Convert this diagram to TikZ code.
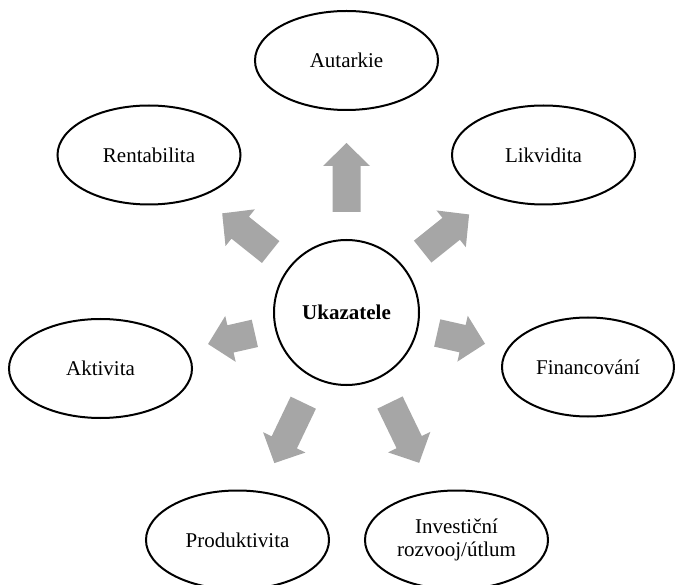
\documentclass[tikz,border=0pt]{standalone}
\usepackage{fontspec}
\setmainfont{Liberation Serif}
\usetikzlibrary{shapes.geometric,calc}
\definecolor{arrowgray}{HTML}{A6A6A6}

% Block arrow on the ray from the hub towards a topic node:
% #1 = target node, #2 = distance of the tail from the hub centre,
% #3 = distance of the tip from the hub centre.
\newcommand{\radarrow}[3]{%
  \path ($(hub.center)!#2!(#1.center)$) coordinate (rt)
        ($(hub.center)!#3!(#1.center)$) coordinate (rp);
  \path ($(rp)!23pt!(rt)$) coordinate (rh);
  \fill[arrowgray]
    ($(rt)!14pt!90:(rp)$) -- ($(rh)!14pt!90:(rp)$) -- ($(rh)!23.5pt!90:(rp)$)
    -- (rp)
    -- ($(rh)!23.5pt!-90:(rp)$) -- ($(rh)!14pt!-90:(rp)$) -- ($(rt)!14pt!-90:(rp)$)
    -- cycle;
}

\begin{document}
\begin{tikzpicture}[x=1pt,y=-1pt,
  topic/.style={ellipse, draw=black, line width=2pt, fill=white, inner sep=0pt,
    minimum width=183pt, minimum height=99pt, align=center,
    font=\fontsize{21}{22.5}\selectfont},
  hubnode/.style={circle, draw=black, line width=2pt, fill=white, inner sep=0pt,
    minimum size=145pt, font=\bfseries\fontsize{21}{23}\selectfont}]
\useasboundingbox (0,0) rectangle (675,585);

\node[hubnode] (hub) at (346.5,312.5) {Ukazatele};

\node[topic] (aut) at (346.5,60.5) {Autarkie};
\node[topic] (ren) at (149,155) {Rentabilita};
\node[topic] (lik) at (543.5,155) {Likvidita};
\node[topic] (akt) at (100.5,368.5) {Aktivita};
\node[topic, minimum width=172pt] (fin) at (588,367) {Financování};
\node[topic] (pro) at (237.5,540) {Produktivita};
\node[topic] (inv) at (456.5,540) {Investiční\\rozvooj/útlum};

\radarrow{aut}{100.5pt}{169.5pt}
\radarrow{ren}{97pt}{159pt}
\radarrow{lik}{97.5pt}{157pt}
\radarrow{fin}{93pt}{142pt}
\radarrow{akt}{94pt}{142pt}
\radarrow{pro}{100pt}{167pt}
\radarrow{inv}{100pt}{167pt}
\end{tikzpicture}
\end{document}
